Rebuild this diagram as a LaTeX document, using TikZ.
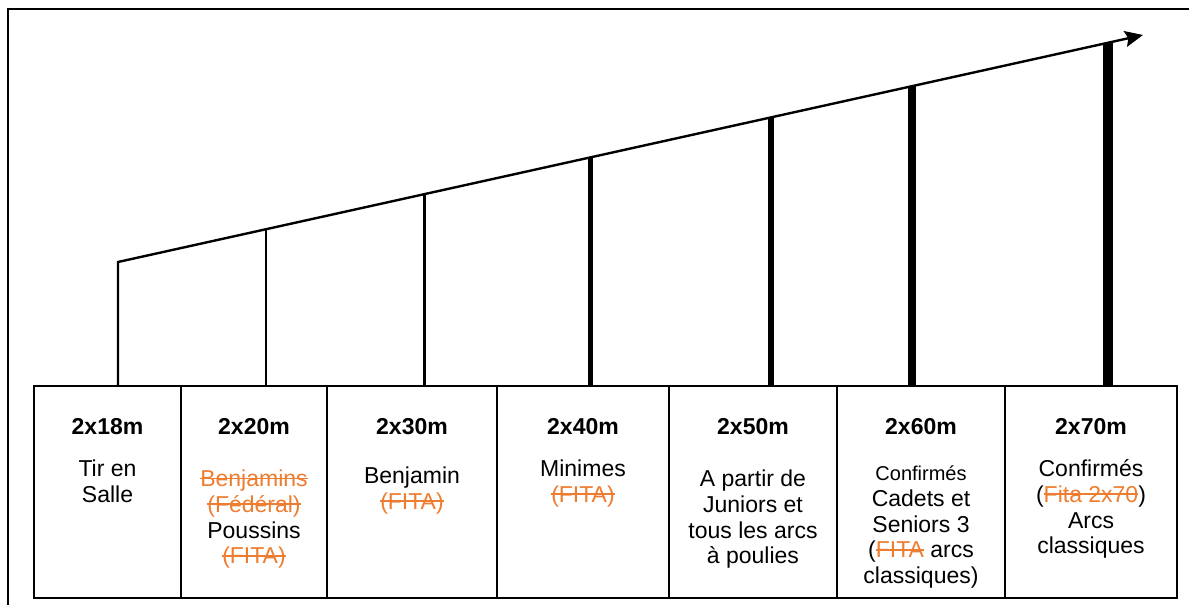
\documentclass[tikz,border=0pt]{standalone}
\usepackage{fontspec}
\setmainfont{Liberation Sans}
\usetikzlibrary{arrows.meta,positioning}
\definecolor{oldorange}{HTML}{ED7D31}
\newcommand{\old}[1]{{\color{oldorange}\setbox0\hbox{#1}\rlap{\rule[3.6pt]{\wd0}{0.8pt}}\box0}}
\newcommand{\fl}{\rule{0pt}{12pt}}

\begin{document}
\begin{tikzpicture}[x=0.5pt,y=-0.5pt,
    every node/.style={font=\fontsize{11.5}{12.9}\selectfont},
    box/.style={draw, line width=0.8pt, inner sep=0pt, outer sep=0pt, minimum height=106pt},
    dist/.style={font=\fontsize{11.5}{12.9}\selectfont\bfseries, anchor=base, inner sep=0pt},
    body/.style={align=center, anchor=north, inner sep=0pt},
    bar/.style={line cap=butt}]
  \useasboundingbox (0,0) rectangle (1189,605);
  %%%%% frame %%%%%
  \draw[line width=1pt] (8,605) -- (8,9) -- (1189,9);

  %%%%% boxes %%%%%
  \node[box, minimum width=73.5pt] (b1) at (107.5,492) {};
  \node[box, minimum width=73pt, right=0pt of b1] (b2) {};
  \node[box, minimum width=85pt, right=0pt of b2] (b3) {};
  \node[box, minimum width=86pt, right=0pt of b3] (b4) {};
  \node[box, minimum width=84pt, right=0pt of b4] (b5) {};
  \node[box, minimum width=84pt, right=0pt of b5] (b6) {};
  \node[box, minimum width=86pt, right=0pt of b6] (b7) {};

  \node[dist] (d1) at ([yshift=-24pt]b1.north) {2x18m};
  \node[dist] (d2) at ([yshift=-24pt]b2.north) {2x20m};
  \node[dist] (d3) at ([yshift=-24pt]b3.north) {2x30m};
  \node[dist] (d4) at ([yshift=-24pt]b4.north) {2x40m};
  \node[dist] (d5) at ([yshift=-24pt]b5.north) {2x50m};
  \node[dist] (d6) at ([yshift=-24pt]b6.north) {2x60m};
  \node[dist] (d7) at ([yshift=-24pt]b7.north) {2x70m};

  \node[body] (c1) at ([yshift=-33pt]b1.north) {\fl Tir en\\Salle};
  \node[body] (c2) at ([yshift=-38pt]b2.north) {\fl\old{Benjamins}\\\old{(Fédéral)}\\Poussins\\\old{(FITA)}};
  \node[body] (c3) at ([yshift=-36.5pt]b3.north) {\fl Benjamin\\\old{(FITA)}};
  \node[body] (c4) at ([yshift=-33pt]b4.north) {\fl Minimes\\\old{(FITA)}};
  \node[body] (c5) at ([yshift=-38pt]b5.north) {\fl A partir de\\Juniors et\\tous les arcs\\à poulies};
  \node[body] (c6) at ([yshift=-35pt]b6.north) {\fl{\fontsize{10}{12.9}\selectfont Confirmés}\\Cadets et\\Seniors 3\\(\old{FITA} arcs\\classiques)};
  \node[body] (c7) at ([yshift=-33pt]b7.north) {\fl Confirmés\\(\old{Fita 2x70})\\Arcs\\classiques};

  %%%%% rising arrow and bars %%%%%
  \coordinate (t1) at (118,262);
  \coordinate (t2) at (266,229.2);
  \coordinate (t3) at (424,194.2);
  \coordinate (t4) at (590,157.5);
  \coordinate (t5) at (771,117.4);
  \coordinate (t6) at (912,86.1);
  \coordinate (t7) at (1108,42.7);
  \coordinate (tip) at (1143,35);

  \draw[line width=1.2pt, -{Stealth[length=9pt, width=8pt, inset=1.5pt]}] (t1 |- b1.north) -- (t1) -- (tip);
  \draw[bar, line width=1.3pt] (t2 |- b2.north) -- (t2);
  \draw[bar, line width=1.5pt] (t3 |- b3.north) -- (t3);
  \draw[bar, line width=2.5pt] (t4 |- b4.north) -- (t4);
  \draw[bar, line width=3pt] (t5 |- b5.north) -- (t5);
  \draw[bar, line width=4pt] (t6 |- b6.north) -- (t6);
  \draw[bar, line width=5.3pt] (t7 |- b7.north) -- (t7);
\end{tikzpicture}
\end{document}
